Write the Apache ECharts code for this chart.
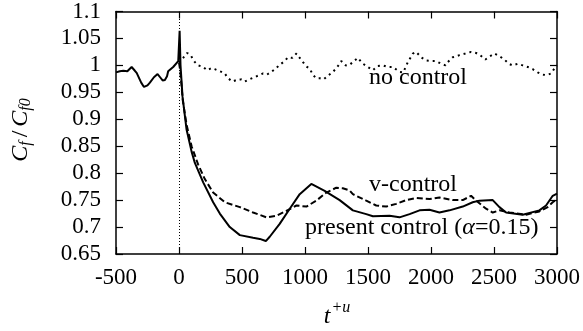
<!DOCTYPE html>
<html><head><meta charset="utf-8">
<script src="https://cdn.jsdelivr.net/npm/echarts@6/dist/echarts.min.js"></script>
<style>html,body{margin:0;padding:0;background:#fff}#c{width:583px;height:331px}</style>
</head><body><div id="c"></div>
<script>
// ---- data ----
var xTicks = [-500, 0, 500, 1000, 1500, 2000, 2500, 3000];
var yTicks = [0.65, 0.7, 0.75, 0.8, 0.85, 0.9, 0.95, 1, 1.05, 1.1];

var tPresent = [-500,-470,-442,-410,-376,-350,-336,-300,-278,-250,-231,-199,-170,-150,-130,-112,-95,-86,-46,-6,0,5,12,28,60,100,126,192,271,324,403,483,588,641,689,720,799,879,958,1050,1156,1275,1380,1486,1539,1671,1750,1830,1909,1988,2067,2147,2252,2331,2384,2490,2543,2596,2728,2860,2913,2966,3000];
var vPresent = [0.987,0.989,0.990,0.989,0.997,0.990,0.986,0.968,0.960,0.963,0.968,0.978,0.984,0.978,0.972,0.973,0.980,0.989,0.997,1.008,1.010,1.064,1.000,0.942,0.881,0.840,0.819,0.783,0.746,0.725,0.700,0.685,0.680,0.678,0.674,0.682,0.706,0.734,0.761,0.780,0.767,0.750,0.731,0.724,0.720,0.721,0.718,0.724,0.731,0.732,0.727,0.731,0.738,0.746,0.749,0.750,0.737,0.727,0.723,0.731,0.740,0.758,0.762];

var tVControl = [0,10,30,60,100,152,205,271,364,483,588,694,773,852,932,1011,1090,1169,1249,1300,1354,1380,1460,1486,1565,1645,1724,1803,1882,1988,2067,2173,2252,2318,2358,2437,2490,2543,2622,2754,2860,2926,2966,3000];
var vVControl = [1.005,0.990,0.935,0.890,0.850,0.816,0.789,0.764,0.746,0.737,0.727,0.718,0.721,0.730,0.740,0.738,0.749,0.764,0.773,0.772,0.768,0.761,0.752,0.749,0.740,0.738,0.743,0.750,0.754,0.752,0.755,0.750,0.750,0.758,0.749,0.734,0.727,0.731,0.727,0.723,0.729,0.737,0.746,0.752];

var tNoControl = [0,33,65,92,126,152,192,223,258,284,337,363,390,424,469,495,522,548,588,628,667,699,734,767,799,839,865,900,932,958,984,1011,1037,1064,1090,1117,1148,1183,1222,1249,1275,1288,1323,1354,1394,1420,1455,1499,1539,1578,1618,1658,1697,1750,1780,1816,1856,1882,1922,1962,2002,2041,2081,2115,2133,2173,2226,2273,2318,2358,2390,2432,2469,2503,2543,2582,2617,2648,2688,2728,2768,2807,2847,2882,2918,2953,2979,3000];
var vNoControl = [1.005,1.014,1.023,1.019,1.006,1.000,0.997,0.991,0.995,0.993,0.988,0.985,0.976,0.970,0.974,0.974,0.970,0.973,0.977,0.981,0.985,0.983,0.988,0.994,1.001,1.008,1.015,1.014,1.022,1.014,1.006,0.998,0.994,0.982,0.976,0.976,0.974,0.981,0.988,0.995,1.003,1.008,1.000,1.001,1.009,1.014,1.004,0.997,0.991,0.999,1.000,0.997,0.997,0.988,0.987,1.006,1.022,1.025,1.015,1.009,1.008,1.008,1.003,1.000,1.006,1.015,1.019,1.022,1.025,1.023,1.019,1.011,1.017,1.022,1.017,1.011,1.003,1.000,1.003,1.000,0.997,0.993,0.987,0.983,0.982,0.985,0.994,1.000];

function pairs(t, v){ return t.map(function(x,i){ return [x, v[i]]; }); }

var FONT = 'Liberation Serif';
var chart = echarts.init(document.getElementById('c'), null, {renderer:'canvas'});
var axisLineStyle = {color:'#000', width:1.5};
var baseX = {type:'value', min:-500, max:3000, interval:500, splitLine:{show:false},
  axisLine:{show:true, onZero:false, lineStyle:axisLineStyle},
  axisTick:{show:true, inside:true, length:7, lineStyle:{color:'#000', width:1.2}}};
var baseY = {type:'value', min:0.65, max:1.1, interval:0.05, splitLine:{show:false},
  axisLine:{show:true, onZero:false, lineStyle:axisLineStyle},
  axisTick:{show:true, inside:true, length:7, lineStyle:{color:'#000', width:1.2}}};

chart.setOption({
  animation:false,
  backgroundColor:'#fff',
  grid:{left:116, right:26, top:9, bottom:77, containLabel:false},
  xAxis:[
    Object.assign({}, baseX, {position:'bottom',
      axisLabel:{show:true, margin:12, color:'#000', fontFamily:FONT, fontSize:23,
        formatter:function(v){ return xTicks.indexOf(v)>=0 ? String(v) : ''; }}}),
    Object.assign({}, baseX, {position:'top', axisLabel:{show:false}})
  ],
  yAxis:[
    Object.assign({}, baseY, {position:'left',
      axisLabel:{show:true, margin:15, color:'#000', fontFamily:FONT, fontSize:23,
        formatter:function(v){ var r=Math.round(v*100)/100; return String(r); }}}),
    Object.assign({}, baseY, {position:'right', axisLabel:{show:false}})
  ],
  series:[
    {type:'line', data:pairs(tNoControl, vNoControl), showSymbol:false, symbol:'none',
      lineStyle:{color:'#000', width:2, type:[2,4]}, z:3,
      markLine:{silent:true, symbol:'none', label:{show:false},
        lineStyle:{color:'#000', width:1, type:[1,2]},
        data:[{xAxis:0}]}},
    {type:'line', data:pairs(tVControl, vVControl), showSymbol:false, symbol:'none',
      lineStyle:{color:'#000', width:2, type:[6,3]}, z:4},
    {type:'line', data:pairs(tPresent, vPresent), showSymbol:false, symbol:'none',
      lineStyle:{color:'#000', width:2}, z:5}
  ],
  graphic:[
    {type:'text', x:418, y:78, style:{text:'no control', fill:'#000', font:'24px "Liberation Serif"', textAlign:'center', textVerticalAlign:'middle'}},
    {type:'text', x:413, y:185, style:{text:'v-control', fill:'#000', font:'24px "Liberation Serif"', textAlign:'center', textVerticalAlign:'middle'}},
    {type:'text', x:305, y:228, style:{
      text:'{n|present control (}{a|α}{n|=0.15)}', textVerticalAlign:'middle',
      rich:{n:{fontFamily:FONT, fontSize:24, fill:'#000'}, a:{fontFamily:FONT, fontSize:24, fontStyle:'italic', fill:'#000'}}}},
    {type:'text', x:337, y:313, style:{
      text:'{t|t}{s|+u}', textAlign:'center', textVerticalAlign:'middle',
      rich:{t:{fontFamily:FONT, fontSize:24, fontStyle:'italic', fill:'#000', padding:[8,0,0,0]},
            s:{fontFamily:FONT, fontSize:16, fontStyle:'italic', fill:'#000', padding:[0,0,10,1]}}}},
    {type:'text', x:21, y:130, rotation:Math.PI/2, style:{
      text:'{c|C}{s|f}{n|/}{c|C}{s|f0}', textAlign:'center', textVerticalAlign:'middle',
      rich:{c:{fontFamily:FONT, fontSize:24, fontStyle:'italic', fill:'#000'},
            n:{fontFamily:FONT, fontSize:24, fill:'#000', padding:[0,4,0,4]},
            s:{fontFamily:FONT, fontSize:16, fontStyle:'italic', fill:'#000', padding:[9,0,0,0]}}}}
  ]
});
</script></body></html>
